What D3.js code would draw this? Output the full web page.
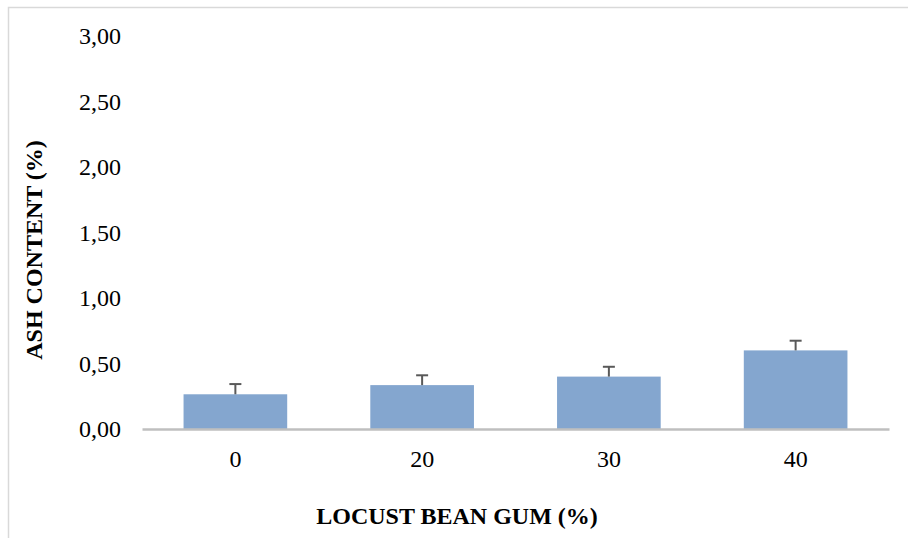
<!DOCTYPE html>
<html><head><meta charset="utf-8">
<script src="https://cdn.jsdelivr.net/npm/d3@7"></script>
<style>body{margin:0;background:#fff}svg{display:block}</style>
</head><body>
<svg id="c" width="908" height="538"></svg>
<script>
const categories = ["0", "20", "30", "40"];
const ashValues = [0.265, 0.335, 0.40, 0.60];
const ashErrors = [0.078, 0.075, 0.075, 0.074];
const yTicks = [0, 0.5, 1.0, 1.5, 2.0, 2.5, 3.0];

const svg = d3.select("#c");
const font = "'Liberation Serif','Times New Roman',serif";

// chart frame
svg.append("rect").attr("x", 8.5).attr("y", 7.5).attr("width", 920).attr("height", 560)
  .attr("fill", "none").attr("stroke", "#d9d9d9").attr("stroke-width", 1.5);

const x = d3.scaleBand().domain(categories).range([142, 889]).paddingInner(0.445).paddingOuter(0.2225);
const y = d3.scaleLinear().domain([0, 3]).range([429, 36]);

// y tick labels
const ya = svg.append("g").attr("transform", "translate(121,0)")
  .call(d3.axisLeft(y).tickValues(yTicks).tickSize(0).tickPadding(0)
    .tickFormat(d => d3.format(".2f")(d).replace(".", ",")));
ya.select(".domain").remove();
ya.selectAll("text").attr("font-family", font).attr("font-size", 24).attr("fill", "#000");

// bars
svg.selectAll("rect.bar").data(ashValues).join("rect").attr("class", "bar")
  .attr("x", (d, i) => x(categories[i])).attr("width", x.bandwidth())
  .attr("y", d => y(d)).attr("height", d => y(0) - y(d))
  .attr("fill", "#84a6cf");

// error bars
const eg = svg.append("g").attr("stroke", "#595959").attr("stroke-width", 2);
ashValues.forEach((v, i) => {
  const cx = x(categories[i]) + x.bandwidth() / 2;
  eg.append("line").attr("x1", cx).attr("x2", cx).attr("y1", y(v)).attr("y2", y(v + ashErrors[i]));
  eg.append("line").attr("x1", cx - 6).attr("x2", cx + 6).attr("y1", y(v + ashErrors[i])).attr("y2", y(v + ashErrors[i]));
});

// x axis
const xa = svg.append("g").attr("transform", "translate(0,429)")
  .call(d3.axisBottom(x).tickSize(0).tickPadding(21));
xa.select(".domain").attr("stroke", "#bfbfbf").attr("stroke-width", 2.5);
xa.selectAll("text").attr("font-family", font).attr("font-size", 24).attr("fill", "#000");

// axis titles
svg.append("text").attr("x", 457).attr("y", 524).attr("text-anchor", "middle")
  .attr("font-family", font).attr("font-weight", "bold").attr("font-size", 24)
  .text("LOCUST BEAN GUM (%)");
svg.append("text").attr("transform", "translate(42,250) rotate(-90)").attr("text-anchor", "middle")
  .attr("font-family", font).attr("font-weight", "bold").attr("font-size", 24)
  .text("ASH CONTENT (%)");
</script>
</body></html>
